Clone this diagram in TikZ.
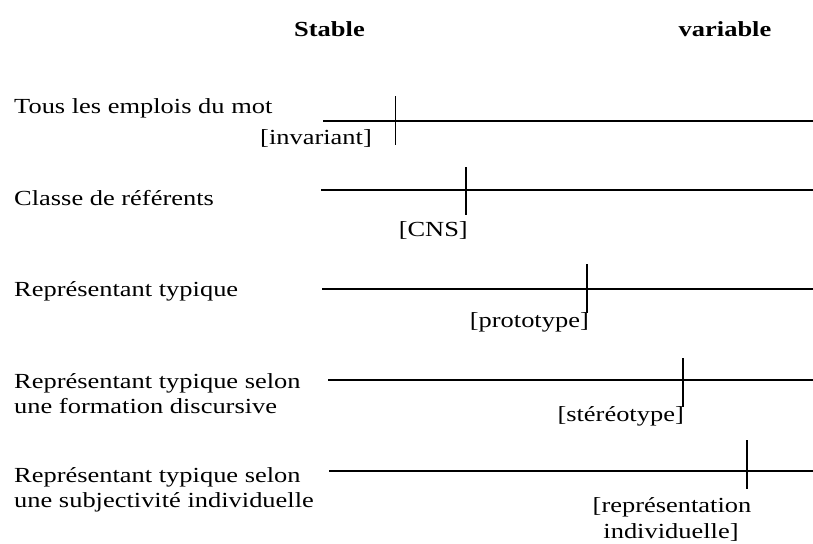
\documentclass[tikz,border=0pt]{standalone}
\usepackage{fontspec}
\setmainfont{Liberation Serif}[FakeStretch=1.23]
\begin{document}
\begin{tikzpicture}[x=1pt,y=-1pt,
  txt/.style={inner sep=0pt,font=\fontsize{21.5}{25}\selectfont},
  hd/.style={txt,font=\fontsize{21.5}{25}\selectfont\bfseries},
  axisline/.style={line width=1.9pt},
  tickline/.style={line width=1.8pt}]
\useasboundingbox (0,0) rectangle (813,543);
% headers
\node[hd,anchor=base] (stable) at (329.5,37) {Stable};
\node[hd,anchor=base] (variable) at (725,37) {variable};
% left labels
\node[txt,anchor=base west] (t1) at (14,113) {Tous les emplois du mot};
\node[txt,anchor=base west] (t2) at (14,205) {Classe de référents};
\node[txt,anchor=base west] (t3) at (14,296) {Représentant typique};
\node[txt,anchor=base west] (t4a) at (14,388) {Représentant typique selon};
\node[txt,anchor=base west] (t4b) at (14,413) {une formation discursive};
\node[txt,anchor=base west] (t5a) at (14,482) {Représentant typique selon};
\node[txt,anchor=base west] (t5b) at (14,507) {une subjectivité individuelle};
% axis lines
\coordinate (a1s) at (323,121); \coordinate (a1e) at (813,121);
\coordinate (a2s) at (321,190); \coordinate (a2e) at (813,190);
\coordinate (a3s) at (322,289); \coordinate (a3e) at (813,289);
\coordinate (a4s) at (328,380); \coordinate (a4e) at (813,380);
\coordinate (a5s) at (329,471); \coordinate (a5e) at (813,471);
\draw[axisline] (a1s) -- (a1e);
\draw[axisline] (a2s) -- (a2e);
\draw[axisline] (a3s) -- (a3e);
\draw[axisline] (a4s) -- (a4e);
\draw[axisline] (a5s) -- (a5e);
% ticks
\coordinate (k1t) at (395.5,96);  \coordinate (k1b) at (395.5,145);
\coordinate (k2t) at (466,167);   \coordinate (k2b) at (466,215);
\coordinate (k3t) at (587,264);   \coordinate (k3b) at (587,313);
\coordinate (k4t) at (683,358);   \coordinate (k4b) at (683,407);
\coordinate (k5t) at (747,440);   \coordinate (k5b) at (747,489);
\draw[tickline] (k1t) -- (k1b);
\draw[tickline] (k2t) -- (k2b);
\draw[tickline] (k3t) -- (k3b);
\draw[tickline] (k4t) -- (k4b);
\draw[tickline] (k5t) -- (k5b);
% tick labels
\node[txt,anchor=base east] (l1) at (372,144) {[invariant]};
\node[txt,anchor=base east] (l2) at (468,236) {[CNS]};
\node[txt,anchor=base east] (l3) at (589,327) {[prototype]};
\node[txt,anchor=base east] (l4) at (684,421) {[stéréotype]};
\node[txt,anchor=base] (l5a) at (672,512) {[représentation};
\node[txt,anchor=base] (l5b) at (671,538) {individuelle]};
\end{tikzpicture}
\end{document}
